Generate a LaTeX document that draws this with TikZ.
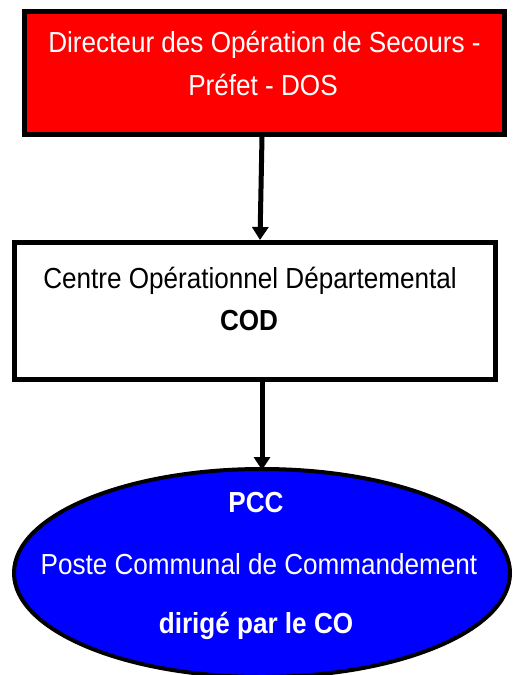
\documentclass[tikz,border=0pt]{standalone}
\usepackage{fontspec}
\setmainfont{Liberation Sans}[FakeStretch=0.9]
\usetikzlibrary{arrows.meta,shapes.geometric}
\definecolor{dosred}{RGB}{255,0,0}
\definecolor{pccblue}{RGB}{0,0,255}
\begin{document}
\begin{tikzpicture}[x=1pt,y=-1pt,
  boxst/.style={draw=black, line width=5pt, inner sep=0pt, rectangle},
  txt/.style={anchor=base, inner sep=0pt, font=\fontsize{29}{35}\selectfont},
  arr/.style={line width=5pt, -{Triangle[width=16pt,length=13pt]}}]
\useasboundingbox (0,0) rectangle (512,675);
% boxes
\node[boxst, fill=dosred, minimum width=480pt, minimum height=123pt] (dos) at (264.5,73) {};
\node[boxst, fill=white, minimum width=481pt, minimum height=137pt] (cod) at (255,311) {};
\node[draw=black, fill=pccblue, line width=4pt, ellipse, inner sep=0pt,
      minimum width=496pt, minimum height=208pt] (pcc) at (262,573) {};
% texts
\node[txt, text=white] (dos1) at (264.5,52) {Directeur des Opération de Secours -};
\node[txt, text=white] (dos2) at (263,95) {Préfet - DOS};
\node[txt] (cod1) at (250,288) {Centre Opérationnel Départemental};
\node[txt, font=\fontsize{29}{35}\selectfont\bfseries] (cod2) at (249,330) {COD};
\node[txt, text=white, font=\fontsize{29}{35}\selectfont\bfseries] (pcc1) at (256,512) {PCC};
\node[txt, text=white] (pcc2) at (259,574) {Poste Communal de Commandement};
\node[txt, text=white, font=\fontsize{29}{35}\selectfont\bfseries] (pcc3) at (256,633) {dirigé par le CO};
% arrows
\draw[arr] ([xshift=-2.5pt]dos.south) -- ([xshift=5pt]cod.north);
\draw[arr] ([xshift=7pt]cod.south) -- ([yshift=-3pt]pcc.north);
\end{tikzpicture}
\end{document}
